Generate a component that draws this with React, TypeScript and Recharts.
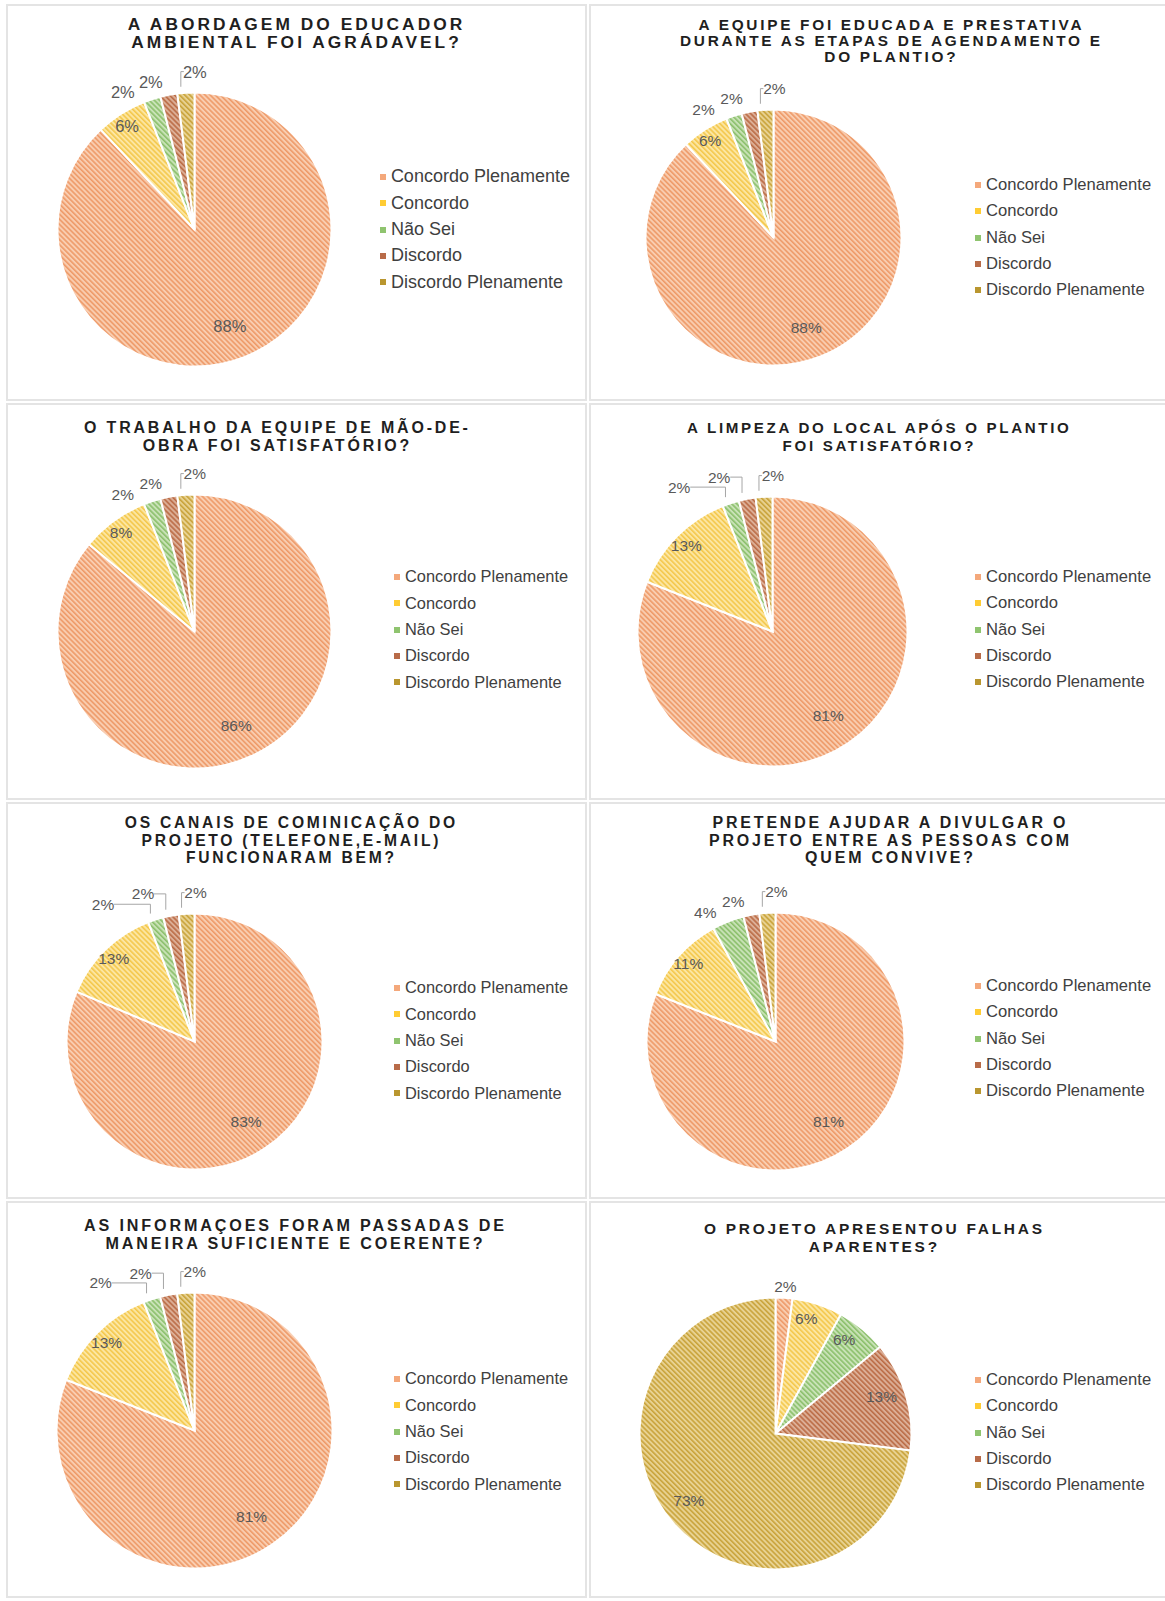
import React from "react";
import { PieChart, Pie, Cell, Legend } from "recharts";

const categories = ["Concordo Plenamente", "Concordo", "Não Sei", "Discordo", "Discordo Plenamente"];

const titles = [
  ["A ABORDAGEM DO EDUCADOR", "AMBIENTAL FOI AGRÁDAVEL?"],
  ["A EQUIPE FOI EDUCADA E PRESTATIVA", "DURANTE AS ETAPAS DE AGENDAMENTO E", "DO PLANTIO?"],
  ["O TRABALHO DA EQUIPE DE MÃO-DE-", "OBRA FOI SATISFATÓRIO?"],
  ["A LIMPEZA DO LOCAL APÓS O PLANTIO", "FOI SATISFATÓRIO?"],
  ["OS CANAIS DE COMINICAÇÃO DO", "PROJETO (TELEFONE,E-MAIL)", "FUNCIONARAM BEM?"],
  ["PRETENDE AJUDAR A DIVULGAR O", "PROJETO ENTRE AS PESSOAS COM", "QUEM CONVIVE?"],
  ["AS INFORMAÇOES FORAM PASSADAS DE", "MANEIRA SUFICIENTE E COERENTE?"],
  ["O PROJETO APRESENTOU FALHAS", "APARENTES?"],
];

const abordagem = [88, 6, 2, 2, 2];
const equipe = [88, 6, 2, 2, 2];
const maoDeObra = [86, 8, 2, 2, 2];
const limpeza = [81, 13, 2, 2, 2];
const canais = [83, 13, 2, 2, 2];
const divulgar = [81, 11, 4, 2, 2];
const informacoes = [81, 13, 2, 2, 2];
const falhas = [2, 6, 6, 13, 73];

const series = [abordagem, equipe, maoDeObra, limpeza, canais, divulgar, informacoes, falhas];

const hatch = [
  { bg: "#f9cdb0", fg: "#ee9a68" },
  { bg: "#fce6a2", fg: "#f4c84c" },
  { bg: "#c8e2b6", fg: "#8cc06c" },
  { bg: "#dcae96", fg: "#bb6c46" },
  { bg: "#e8d292", fg: "#c9a33a" },
];
const legendColors = ["#f4a87b", "#ffcc33", "#8fc46f", "#b86b48", "#b9962f"];

const COL_X = [6, 589];
const ROW_Y = [4, 403, 802, 1201];
const PANEL_W = 581;
const PANEL_H = 397;

// geometria de cada painel (relativa ao canto do painel)
const layout = [
  { cx: 183.5, cy: 220.5, r: 137, titleX: 289, titleY: 21, titleS: 1.02, lh: 17.5, legendX: 374, legendY: 173, legendFs: 18, labelFs: 16.5 },
  { cx: 179.5, cy: 228.5, r: 128, titleX: 301, titleY: 21, titleS: 0.905, lh: 16.3, legendX: 386, legendY: 181, legendFs: 16.6, labelFs: 15.5 },
  { cx: 183.5, cy: 223.5, r: 137, titleX: 270, titleY: 25, titleS: 0.94, lh: 17.5, legendX: 388, legendY: 174, legendFs: 16.4, labelFs: 15.5 },
  { cx: 178.5, cy: 223.5, r: 135, titleX: 289, titleY: 25, titleS: 0.89, lh: 17.5, legendX: 386, legendY: 174, legendFs: 16.6, labelFs: 15.5 },
  { cx: 183.5, cy: 234.5, r: 128, titleX: 284, titleY: 21, titleS: 0.92, lh: 17.5, legendX: 388, legendY: 186, legendFs: 16.4, labelFs: 15.5 },
  { cx: 181.5, cy: 234.5, r: 129, titleX: 300, titleY: 21, titleS: 0.94, lh: 17.5, legendX: 386, legendY: 184, legendFs: 16.6, labelFs: 15.5 },
  { cx: 183.5, cy: 224.5, r: 138, titleX: 288, titleY: 25, titleS: 0.95, lh: 17.5, legendX: 388, legendY: 178, legendFs: 16.4, labelFs: 15.5 },
  { cx: 181.5, cy: 227.5, r: 136, titleX: 284, titleY: 28, titleS: 0.91, lh: 17.5, legendX: 386, legendY: 179, legendFs: 16.6, labelFs: 15.5 },
];

type Pos = { x: number; y: number; leader: boolean; ex: number; ey: number };

const RAD = Math.PI / 180;

function labelPositions(values: number[], r: number): Pos[] {
  const total = values.reduce((a, b) => a + b, 0);
  let acc = 0;
  const mids: number[] = [];
  const out: Pos[] = values.map((v) => {
    const m = ((acc + v / 2) / total) * 360;
    acc += v;
    mids.push(m);
    const a = m * RAD;
    let k = v / total > 0.5 ? r * 0.8 : r * 0.85;
    let dx = 0;
    if (v < 5) { k = r + 6; dx = 6; }
    return {
      x: k * Math.sin(a) + dx,
      y: -k * Math.cos(a),
      leader: false,
      ex: (r + 1) * Math.sin(a),
      ey: -(r + 1) * Math.cos(a),
    };
  });
  // grupos de fatias pequenas vizinhas: rótulos afastados, o último com linha guia
  let i = 0;
  while (i < values.length) {
    if (values[i] >= 5) { i++; continue; }
    let j = i;
    while (j + 1 < values.length && values[j + 1] < 5) j++;
    const n = j - i + 1;
    if (n > 1) {
      // quando a fatia anterior ao grupo é mais larga, o Excel afasta mais os rótulos
      const wide = i > 0 && values[i - 1] / total > 0.12;
      const Rl = r + 16;
      const lastX = out[j].ex + 14;
      out[j] = { ...out[j], x: lastX, y: -Math.sqrt(Rl * Rl - lastX * lastX), leader: true };
      let x = (r + 16) * Math.sin(mids[j - 1] * RAD) - (wide ? 20 : 10);
      let R = wide ? r + 22 : r + 11;
      for (let k = j - 1; k >= i; k--) {
        out[k] = { ...out[k], x, y: -Math.sqrt(Math.max(R * R - x * x, 0)), leader: wide };
        x -= wide ? 40 : 28;
        if (wide) R += 8;
      }
    }
    i = j + 1;
  }
  return out;
}

const LegendList = ({ fs }: { fs: number }) => (
  <div style={{ fontSize: fs, color: "#404040" }}>
    {categories.map((c, i) => (
      <div key={c} style={{ display: "flex", alignItems: "center", height: 26.3, whiteSpace: "nowrap" }}>
        <span style={{ width: 6, height: 6, background: legendColors[i], marginRight: 5, display: "inline-block" }} />
        <span>{c}</span>
      </div>
    ))}
  </div>
);

const PiePanel = ({ idx }: { idx: number }) => {
  const values = series[idx];
  const L = layout[idx];
  const data = categories.map((name, i) => ({ name, value: values[i] }));
  const pos = labelPositions(values, L.r);
  const fs = 17 * L.titleS;
  const ls = 3 * L.titleS;

  const renderLabel = (props: any) => {
    const p = pos[props.index];
    const lx = L.cx + p.x;
    const ly = L.cy + p.y;
    const ex = L.cx + p.ex;
    const ey = L.cy + p.ey;
    const endX = lx > ex ? lx - 11 : lx + 11;
    return (
      <g key={`lbl-${props.index}`}>
        {p.leader && (
          <polyline points={`${ex},${ey} ${ex},${ly} ${endX},${ly}`} fill="none" stroke="#a6a6a6" strokeWidth={1} />
        )}
        <text x={lx} y={ly} textAnchor="middle" dominantBaseline="central" fontSize={L.labelFs} fill="#595959"
          fontFamily="'Liberation Sans', Arial, sans-serif">
          {values[props.index]}%
        </text>
      </g>
    );
  };

  return (
    <div style={{ position: "absolute", left: COL_X[idx % 2], top: ROW_Y[Math.floor(idx / 2)], width: PANEL_W, height: PANEL_H }}>
      <div style={{ position: "absolute", inset: 0, border: "2px solid #e4e4e4", boxSizing: "border-box" }} />
      <div style={{
        position: "absolute", left: L.titleX - 250, top: L.titleY - L.lh / 2, width: 500, textAlign: "center",
        fontWeight: "bold", fontSize: fs, letterSpacing: ls, lineHeight: `${L.lh}px`, color: "#1f1f1f",
        paddingLeft: ls, boxSizing: "border-box", whiteSpace: "nowrap",
      }}>
        {titles[idx].map((t) => <div key={t}>{t}</div>)}
      </div>
      <div style={{ position: "absolute", left: 0, top: 0 }}>
        <PieChart width={PANEL_W} height={PANEL_H}>
          <Pie
            data={data}
            dataKey="value"
            nameKey="name"
            cx={L.cx}
            cy={L.cy}
            outerRadius={L.r}
            startAngle={90}
            endAngle={-270}
            stroke="#ffffff"
            strokeWidth={2}
            labelLine={false}
            label={renderLabel}
            isAnimationActive={false}
          >
            {data.map((d, i) => <Cell key={d.name} fill={`url(#hatch-${i})`} />)}
          </Pie>
          <Legend
            layout="vertical"
            align="right"
            verticalAlign="middle"
            content={() => <LegendList fs={L.legendFs} />}
            wrapperStyle={{ left: L.legendX, top: L.legendY - 13.15, width: 190, right: "auto", bottom: "auto" }}
          />
        </PieChart>
      </div>
    </div>
  );
};

export default function App() {
  return (
    <div style={{
      position: "relative", width: 1165, height: 1601, overflow: "hidden", background: "#fff",
      fontFamily: "'Liberation Sans', Arial, sans-serif",
    }}>
      <style>{`body{margin:0}`}</style>
      <svg width={0} height={0} style={{ position: "absolute" }}>
        <defs>
          {hatch.map((h, i) => (
            <pattern key={i} id={`hatch-${i}`} patternUnits="userSpaceOnUse" width={3.6} height={3.6} patternTransform="rotate(-45)">
              <rect width={3.6} height={3.6} fill={h.bg} />
              <rect width={1.6} height={3.6} fill={h.fg} />
            </pattern>
          ))}
        </defs>
      </svg>
      {series.map((_, i) => <PiePanel key={i} idx={i} />)}
    </div>
  );
}
